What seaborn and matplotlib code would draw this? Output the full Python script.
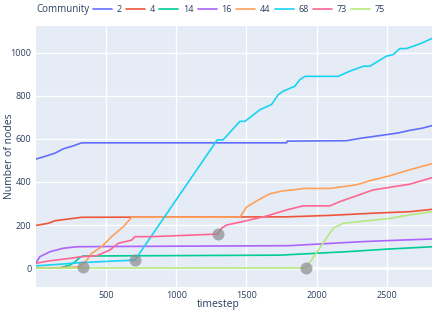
import numpy as np
import pandas as pd
import matplotlib
matplotlib.use("Agg")
import matplotlib.pyplot as plt
import seaborn as sns
from matplotlib.lines import Line2D

communities = ["2", "4", "14", "16", "44", "68", "73", "75"]
colors = ["#636EFA", "#EF553B", "#00CC96", "#AB63FA", "#FFA15A", "#19D3F3", "#FF6692", "#B6E880"]

x_2 = [0, 66, 137, 196, 267, 327, 1785, 1790, 2212, 2330, 2496, 2580, 2662, 2750, 2820]
y_2 = [506, 519, 534, 554, 568, 582, 582, 590, 592, 605, 620, 628, 640, 650, 662]

x_4 = [0, 90, 137, 232, 327, 1785, 2100, 2401, 2662, 2820]
y_4 = [198, 208, 220, 228, 236, 238, 245, 255, 262, 273]

x_14 = [0, 173, 244, 280, 315, 339, 1737, 2212, 2500, 2820]
y_14 = [0, 1, 14, 29, 50, 56, 60, 76, 88, 99]

x_16 = [0, 30, 102, 196, 291, 457, 1800, 2330, 2600, 2820]
y_16 = [22, 53, 76, 92, 99, 100, 104, 123, 130, 135]

x_44 = [0, 230, 315, 362, 398, 469, 540, 623, 683, 1454, 1500, 1536, 1607, 1666,
        1761, 1844, 1903, 2093, 2283, 2401, 2520, 2662, 2820]
y_44 = [0, 3, 6, 35, 68, 99, 146, 192, 236, 237, 283, 298, 325, 345,
        359, 364, 370, 370, 387, 410, 429, 457, 485]

x_68 = [0, 196, 315, 600, 706, 1292, 1334, 1453, 1489, 1596, 1678, 1726, 1761, 1844,
        1880, 1916, 2152, 2235, 2330, 2378, 2496, 2543, 2591, 2638, 2733, 2820]
y_68 = [10, 19, 25, 34, 37, 596, 596, 682, 682, 736, 760, 806, 822, 845,
        876, 891, 891, 915, 938, 938, 985, 992, 1020, 1020, 1042, 1067]

x_73 = [0, 102, 244, 327, 433, 528, 587, 683, 706, 825, 1294, 1323, 1358, 1500, 1643,
        1785, 1903, 2093, 2165, 2235, 2401, 2662, 2820]
y_73 = [22, 34, 45, 53, 57, 84, 115, 130, 146, 146, 158, 185, 200, 220, 242,
        270, 289, 289, 309, 325, 363, 390, 420]

x_75 = [0, 1923, 2117, 2188, 2520, 2662, 2820]
y_75 = [0, 0, 185, 208, 231, 247, 262]

marker_x = [339, 706, 1294, 1923]
marker_y = [3, 37, 158, 0]

series_x = [x_2, x_4, x_14, x_16, x_44, x_68, x_73, x_75]
series_y = [y_2, y_4, y_14, y_16, y_44, y_68, y_73, y_75]

frames = []
for c, xs, ys in zip(communities, series_x, series_y):
    frames.append(pd.DataFrame({"timestep": xs, "nodes": ys, "Community": c}))
df = pd.concat(frames, ignore_index=True)

sns.set_theme(style="darkgrid")
plt.rcParams["font.family"] = ["Open Sans", "DejaVu Sans"]
text_color = "#2a3f5f"

fig = plt.figure(figsize=(4.36, 3.12), dpi=100)
W, H = 436, 312
left, right, top, bottom = 35.7, 432, 26, 287
ax = fig.add_axes([left / W, 1 - bottom / H, (right - left) / W, (bottom - top) / H])
ax.set_facecolor("#E5ECF6")

sns.lineplot(data=df, x="timestep", y="nodes", hue="Community", hue_order=communities,
             palette=colors, linewidth=1.2, ax=ax, legend=False, estimator=None, sort=False)
ax.scatter(marker_x, marker_y, s=75, color="#8c8c8c", alpha=0.7, zorder=5, linewidths=0)

ax.set_xlim(0, 2820)
ax.set_ylim(-88, 1125)
ax.set_xticks([500, 1000, 1500, 2000, 2500])
ax.set_yticks([0, 200, 400, 600, 800, 1000])
ax.grid(True, color="white", linewidth=1.0)
ax.axhline(0, color="white", linewidth=1.8, zorder=0.5)
for s in ax.spines.values():
    s.set_visible(False)
ax.tick_params(axis="both", length=0, labelsize=6.5, colors=text_color, pad=3)
ax.set_xlabel("timestep", fontsize=7.5, color=text_color)
ax.set_ylabel("Number of nodes", fontsize=7.5, color=text_color)
ax.xaxis.set_label_coords((218 - left) / (right - left), -(304 - bottom) / (bottom - top))
ax.yaxis.set_label_coords(-(left - 9) / (right - left), 0.5)
ax.xaxis.label.set_va("center")
ax.yaxis.label.set_va("center")

fig.text(36 / W, 1 - 9.5 / H, "Community", fontsize=7, color=text_color, va="center", ha="left")
handles = [Line2D([0], [0], color=col, linewidth=1.2) for col in colors]
leg = fig.legend(handles, communities, loc="center left", bbox_to_anchor=(93 / W, 1 - 9.5 / H),
                 ncol=8, frameon=False, fontsize=6.5, handlelength=2.1, handletextpad=0.5,
                 columnspacing=0.5, borderaxespad=0, borderpad=0)
for t in leg.get_texts():
    t.set_color(text_color)

fig.savefig("out.png", dpi=100, facecolor="white")
